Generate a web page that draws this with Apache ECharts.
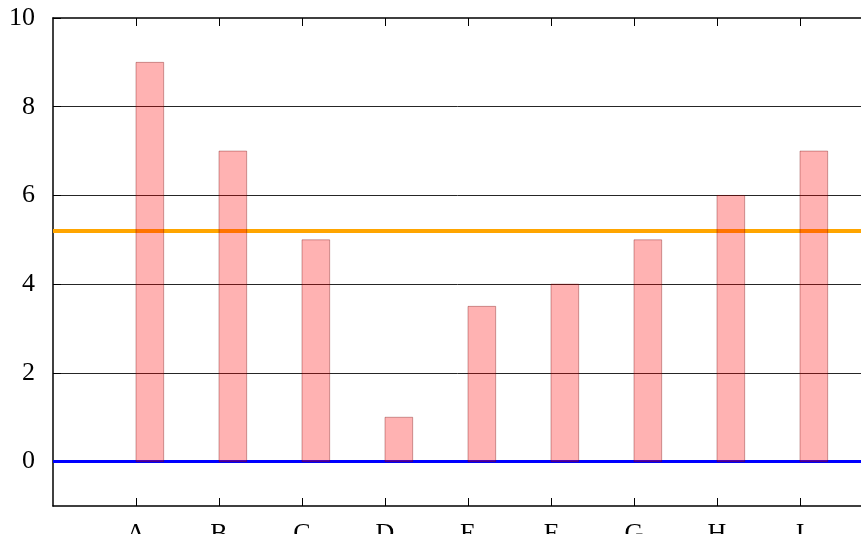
<!DOCTYPE html>
<html>
<head>
<meta charset="utf-8">
<script src="https://cdn.jsdelivr.net/npm/echarts@6/dist/echarts.min.js"></script>
<style>html,body{margin:0;padding:0;background:#fff;}#c{width:861px;height:534px;}</style>
</head>
<body>
<div id="c"></div>
<script>
const categories = ['A','B','C','D','E','F','G','H','I'];
const positions = [1,2,3,4,5,6,7,8,9];
const values = [9,7,5,1,3.5,4,5,6,7];
const yTicks = [0,2,4,6,8,10];
const gridLines = [2,4,6,8];
const meanLine = 5.2;
const zeroLine = 0;

const BAR_W = 1/3;
const FONT = 'Liberation Serif';

const chart = echarts.init(document.getElementById('c'), null, {renderer:'canvas'});
const axisLine = {show:true, onZero:false, lineStyle:{color:'#000', width:1.5}};
chart.setOption({
  animation:false,
  backgroundColor:'#fff',
  grid:{left:53, top:18, right:-22, bottom:28, containLabel:false, outerBoundsMode:'none'},
  xAxis:[{
    type:'value', min:0, max:10, interval:1, position:'bottom',
    axisLine:axisLine,
    axisTick:{show:true, inside:true, length:8, lineStyle:{color:'#000', width:1}, customValues:positions},
    axisLabel:{show:true, customValues:positions, margin:15, color:'#000', fontFamily:FONT, fontSize:26,
      formatter:v => categories[positions.indexOf(v)] || ''},
    splitLine:{show:false}
  },{
    type:'value', min:0, max:10, interval:1, position:'top',
    axisLine:axisLine,
    axisTick:{show:true, inside:true, length:8, lineStyle:{color:'#000', width:1}, customValues:positions},
    axisLabel:{show:false}, splitLine:{show:false}
  }],
  yAxis:[{
    type:'value', min:-1, max:10, position:'left',
    axisLine:axisLine,
    axisTick:{show:true, inside:true, length:8, lineStyle:{color:'#000', width:1}, customValues:yTicks},
    axisLabel:{show:true, customValues:yTicks, margin:18, color:'#000', fontFamily:FONT, fontSize:26},
    splitLine:{show:false}
  }],
  series:[{
    type:'line', data:[], xAxisIndex:0, yAxisIndex:0, z:1, silent:true,
    markLine:{
      symbol:'none', silent:true, z:1, animation:false,
      label:{show:false},
      data:[
        ...gridLines.map(v => ({yAxis:v, lineStyle:{color:'#000', width:1, type:'solid', opacity:0.85}})),
        {yAxis:zeroLine, lineStyle:{color:'#0000ff', width:3, type:'solid'}},
        {yAxis:meanLine, lineStyle:{color:'#ffa500', width:4, type:'solid'}}
      ]
    }
  },{
    type:'custom', z:10, xAxisIndex:0, yAxisIndex:0,
    data: positions.map((p,i) => [p, values[i]]),
    renderItem:(params, api) => {
      const p0 = api.coord([api.value(0), api.value(1)]);
      const p1 = api.coord([api.value(0) + BAR_W, 0]);
      return {
        type:'rect',
        shape:{x:p0[0], y:p0[1], width:p1[0]-p0[0], height:p1[1]-p0[1]},
        style:{fill:'rgba(255,0,0,0.3)', stroke:'rgba(110,0,0,0.35)', lineWidth:1}
      };
    }
  }]
});
</script>
</body>
</html>
